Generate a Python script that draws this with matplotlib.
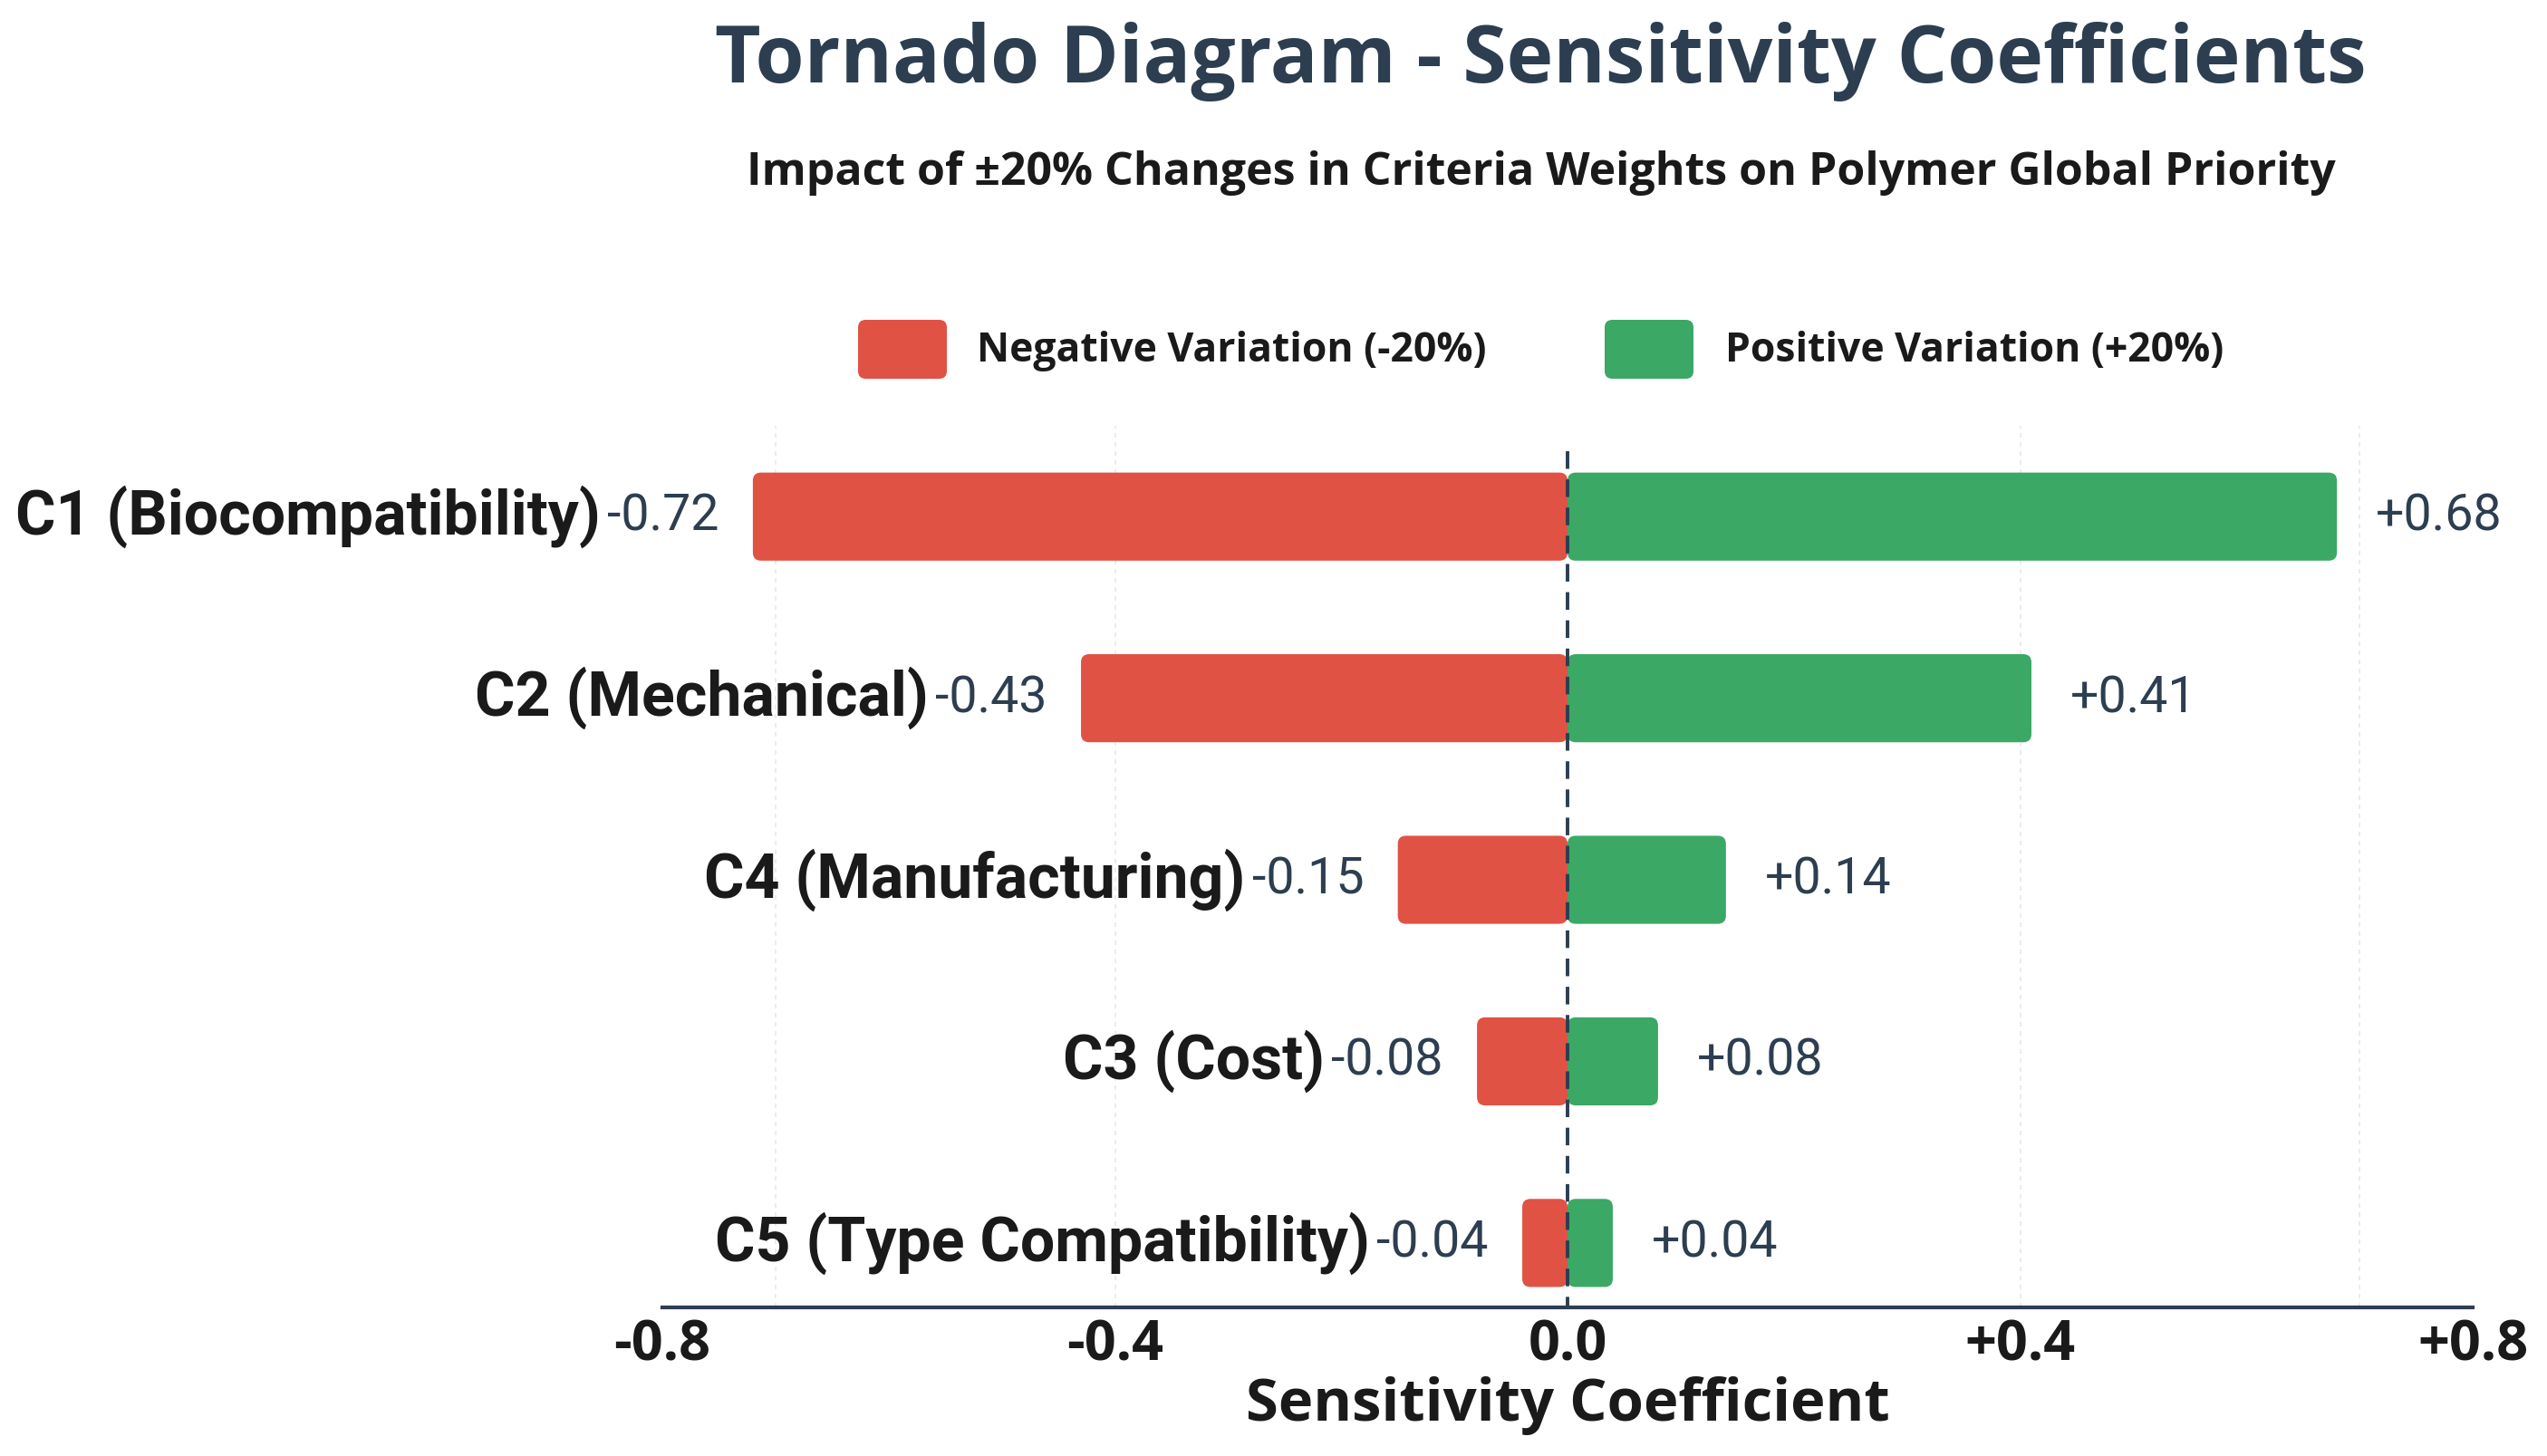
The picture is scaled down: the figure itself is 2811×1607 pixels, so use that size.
import numpy as np
import matplotlib.pyplot as plt
from matplotlib.patches import FancyBboxPatch

# data
criteria = ['C1 (Biocompatibility)', 'C2 (Mechanical)', 'C4 (Manufacturing)',
            'C3 (Cost)', 'C5 (Type Compatibility)']
neg_values = [-0.72, -0.43, -0.15, -0.08, -0.04]
pos_values = [0.68, 0.41, 0.14, 0.08, 0.04]
series_names = ['Negative Variation (-20%)', 'Positive Variation (+20%)']
xticks = [-0.8, -0.4, 0.0, 0.4, 0.8]
xtick_labels = ['-0.8', '-0.4', '0.0', '+0.4', '+0.8']
grid_x = [-0.7, -0.4, 0.4, 0.7]

RED = '#e05244'
GREEN = '#3ba865'
NAVY = '#2c3e50'
W, H = 2811, 1607

fig = plt.figure(figsize=(W / 100, H / 100), dpi=100)
fig.patch.set_facecolor('white')
ax = fig.add_axes([731 / W, 1 - 1443 / H, (2729 - 731) / W, (1443 - 470) / H])

y = np.arange(len(criteria))
ax.set_xlim(-0.8, 0.8)
ax.set_ylim(4.355, -0.5)

bars_neg = ax.barh(y, neg_values, height=0.485, color=RED)
bars_pos = ax.barh(y, pos_values, height=0.485, color=GREEN)


def round_bars(bars, color, r_px=9):
    # swap plain rectangles for rounded ones of the same geometry
    bb = ax.get_window_extent()
    dx = 1.6 / bb.width
    dy = abs(ax.get_ylim()[0] - ax.get_ylim()[1]) / bb.height
    for b in bars:
        x, yb, w, h = b.get_x(), b.get_y(), b.get_width(), b.get_height()
        b.set_visible(False)
        p = FancyBboxPatch((min(x, x + w), yb), abs(w), h,
                           boxstyle=f'round,pad=0,rounding_size={r_px * dx}',
                           mutation_aspect=dy / dx, fc=color, ec='none', zorder=2)
        ax.add_patch(p)


round_bars(bars_neg, RED)
round_bars(bars_pos, GREEN)

# faint grid and zero line
for gx in grid_x:
    ax.axvline(gx, color='#e6e9ec', lw=1.2, ls=(0, (3, 3)), zorder=0)
ax.vlines(0, -0.36, 4.355, colors=NAVY, lw=2.8, linestyles=(0, (5, 3)), zorder=3)

# value and category labels
for i, (n, p) in enumerate(zip(neg_values, pos_values)):
    t = ax.annotate(f'{n:.2f}', xy=(n, i), xytext=(-27, 0), textcoords='offset points',
                    ha='right', va='center', fontsize=40, color=NAVY, family='Roboto')
    ax.annotate(criteria[i], xy=(0, 0.5), xycoords=t, xytext=(-5, 0),
                textcoords='offset points', ha='right', va='center',
                fontsize=49, fontweight='bold', color='#1a1a1a', family='Roboto')
    ax.annotate(f'+{p:.2f}', xy=(p, i), xytext=(31, 0), textcoords='offset points',
                ha='left', va='center', fontsize=40, color=NAVY, family='Roboto')

# axes styling
for s in ['top', 'right', 'left']:
    ax.spines[s].set_visible(False)
ax.spines['bottom'].set_color(NAVY)
ax.spines['bottom'].set_linewidth(3)
ax.set_yticks([])
ax.set_xticks(xticks)
ax.set_xticklabels(xtick_labels, fontsize=44, fontweight='bold', color='#1a1a1a',
                   family='Open Sans')
ax.tick_params(axis='x', length=0, pad=9)
ax.set_xlabel('Sensitivity Coefficient', fontsize=47, fontweight='bold', color='#1a1a1a',
              family='Open Sans', labelpad=2)

# titles
fig.text(0.605, 1 - 68 / H, 'Tornado Diagram - Sensitivity Coefficients', ha='center',
         va='center', fontsize=63, fontweight='bold', color=NAVY, family='Open Sans')
fig.text(0.605, 1 - 191 / H, 'Impact of ±20% Changes in Criteria Weights on Polymer Global Priority',
         ha='center', va='center', fontsize=36, fontweight='bold', color='#1a1a1a',
         family='Open Sans')

# legend drawn by hand
leg_y = 1 - 388 / H
for (bx, tx), name, col in zip([(947, 1078), (1771, 1904)], series_names, [RED, GREEN]):
    box = FancyBboxPatch((bx / W, 1 - 418 / H), 98 / W, 65 / H,
                         boxstyle='round,pad=0,rounding_size=0.003',
                         mutation_aspect=W / H, transform=fig.transFigure,
                         fc=col, ec='none')
    fig.patches.append(box)
    fig.text(tx / W, leg_y, name, ha='left', va='center', fontsize=32,
             fontweight='bold', color='#1a1a1a', family='Open Sans')

fig.savefig('out.png', dpi=100, facecolor='white')
